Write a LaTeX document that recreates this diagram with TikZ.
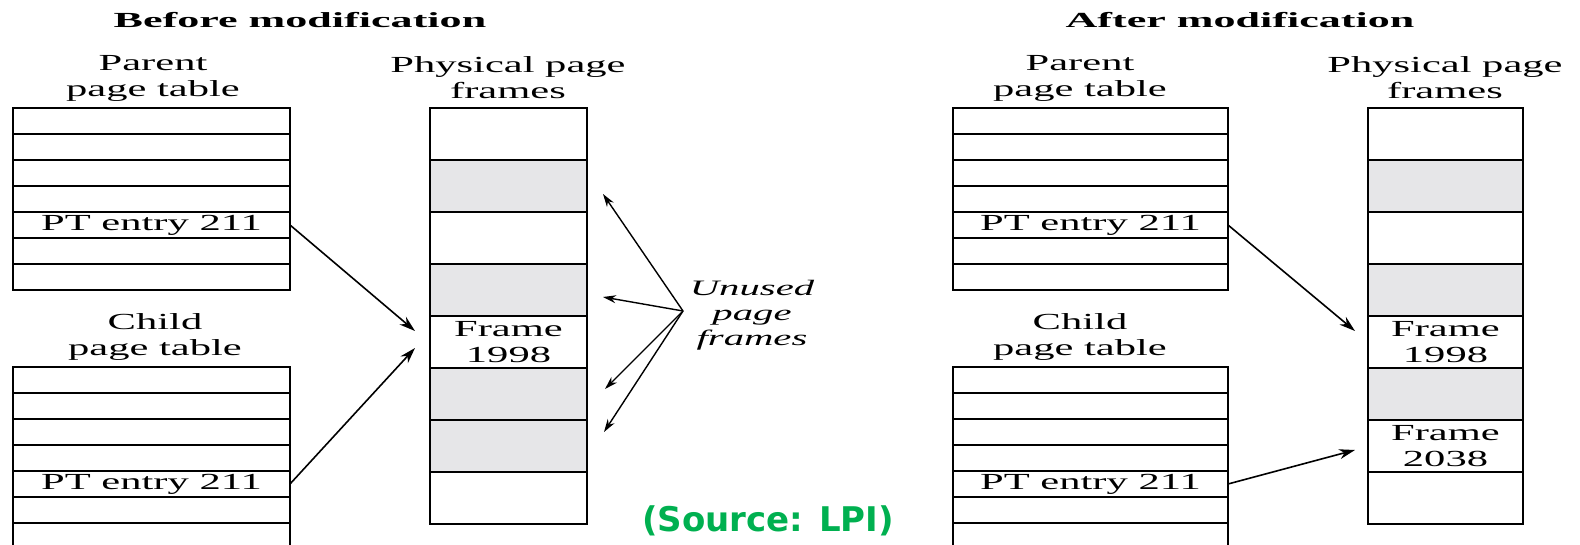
\documentclass[tikz,border=0pt]{standalone}
\usepackage{fontspec}
\setmainfont{Liberation Serif}
\newfontfamily\wideserif[FakeStretch=1.85]{Liberation Serif}
\newfontfamily\titleserif[FakeStretch=2.05]{Liberation Serif}
\newfontfamily\greensans{DejaVu Sans}
\usetikzlibrary{arrows.meta}
\definecolor{srcgreen}{RGB}{0,176,80}
\definecolor{shadegray}{RGB}{230,230,232}
\begin{document}
\begin{tikzpicture}[x=1pt,y=-1pt,
  every node/.style={inner sep=0pt, outer sep=0pt},
  txt/.style={font=\wideserif\fontsize{23}{26}\selectfont, align=center},
  ttl/.style={font=\titleserif\bfseries\fontsize{21.5}{24}\selectfont},
  ptrowL/.style={draw, line width=1.6pt, minimum width=277pt, minimum height=26pt, txt},
  ptrowR/.style={draw, line width=1.6pt, minimum width=275pt, minimum height=26pt, txt},
  frL/.style={draw, line width=1.6pt, minimum width=157pt, minimum height=52pt, txt},
  frR/.style={draw, line width=1.6pt, minimum width=155pt, minimum height=52pt, txt},
  used/.style={fill=white},
  unused/.style={fill=shadegray},
  conn/.style={line width=1.6pt, -{Stealth[length=16pt,width=10pt]}},
  thinconn/.style={line width=1.4pt, -{Stealth[length=13pt,width=8pt]}},
]
\useasboundingbox (0,0) rectangle (1580,545);
\begin{scope}
\clip (0,0) rectangle (1580,545);
% ---------- titles ----------
\node[ttl] (tbefore) at (300,20) {Before modification};
\node[ttl] (tafter) at (1240,20) {After modification};
\node[txt] (hpl) at (153,78) {Parent\\page table};
\node[txt] (hfl) at (508,78) {Physical page\\frames};
\node[txt] (hcl) at (155,337) {Child\\page table};
\node[txt] (hpr) at (1080,78) {Parent\\page table};
\node[txt] (hfr) at (1445,78) {Physical page\\frames};
\node[txt] (hcr) at (1080,337) {Child\\page table};
% ---------- left parent page table ----------
\foreach \i/\t in {0/,1/,2/,3/,4/PT entry 211,5/,6/}
  \node[ptrowL] (lp\i) at (151.5,{108+26*(\i+0.5)}) {\t};
% ---------- left child page table ----------
\foreach \i/\t in {0/,1/,2/,3/,4/PT entry 211,5/,6/}
  \node[ptrowL] (lc\i) at (151.5,{367+26*(\i+0.5)}) {\t};
% ---------- right parent page table ----------
\foreach \i/\t in {0/,1/,2/,3/,4/PT entry 211,5/,6/}
  \node[ptrowR] (rp\i) at (1090.5,{108+26*(\i+0.5)}) {\t};
% ---------- right child page table ----------
\foreach \i/\t in {0/,1/,2/,3/,4/PT entry 211,5/,6/}
  \node[ptrowR] (rc\i) at (1090.5,{367+26*(\i+0.5)}) {\t};
% ---------- left physical frames ----------
\foreach \i/\s/\t in {0/used/,1/unused/,2/used/,3/unused/,4/used/Frame\\1998,5/unused/,6/unused/,7/used/}
  \node[frL,\s] (lf\i) at (508.5,{108+52*(\i+0.5)}) {\t};
% ---------- right physical frames ----------
\foreach \i/\s/\t in {0/used/,1/unused/,2/used/,3/unused/,4/used/Frame\\1998,5/unused/,6/used/Frame\\2038,7/used/}
  \node[frR,\s] (rf\i) at (1445.5,{108+52*(\i+0.5)}) {\t};
% ---------- connectors ----------
\draw[conn] (lp4.east) -- ([xshift=-15pt,yshift=11pt]lf4.west);
\draw[conn] (lc4.east) -- ([xshift=-15pt,yshift=-6pt]lf4.west);
\draw[conn] (rp4.east) -- ([xshift=-13pt,yshift=11pt]rf4.west);
\draw[conn] (rc4.east) -- ([xshift=-13pt,yshift=-4pt]rf6.west);
% ---------- unused page frames ----------
\node[font=\wideserif\itshape\fontsize{22}{25}\selectfont, align=center] (unused) at (752,315) {Unused\\page\\frames};
\coordinate (uc) at (683,311);
\coordinate (u1) at (603,194);
\coordinate (u2) at (603,297);
\coordinate (u3) at (605,389);
\coordinate (u4) at (604,432);
\draw[thinconn] (uc) -- (u1);
\draw[thinconn] (uc) -- (u2);
\draw[thinconn] (uc) -- (u3);
\draw[thinconn] (uc) -- (u4);
% ---------- source ----------
\node[font=\greensans\bfseries\fontsize{34}{40}\selectfont, text=srcgreen] (src) at (768,521) {(Source: LPI)};
\end{scope}
\end{tikzpicture}
\end{document}
